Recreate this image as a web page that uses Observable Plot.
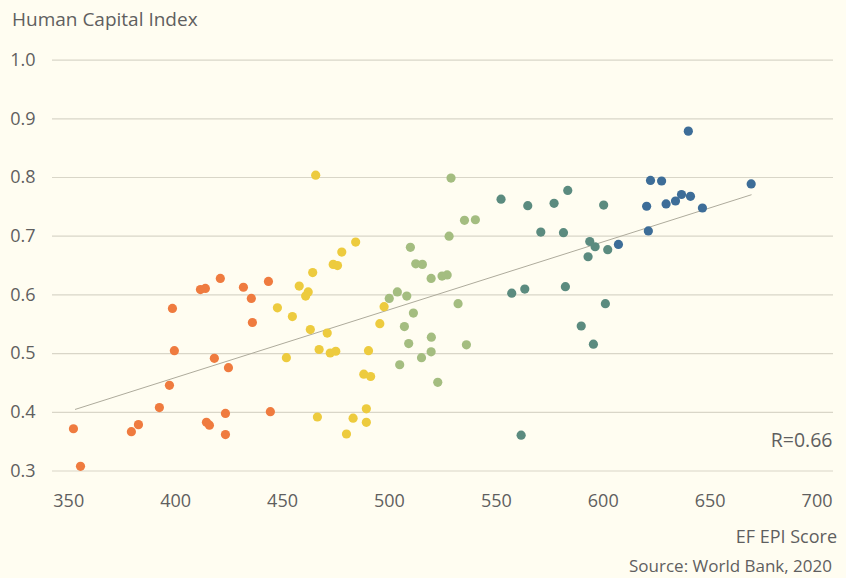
<!DOCTYPE html>
<html>
<head>
<meta charset="utf-8">
<script src="https://cdn.jsdelivr.net/npm/d3@7"></script>
<script src="https://cdn.jsdelivr.net/npm/@observablehq/plot@0.6"></script>
<style>
  html, body { margin: 0; padding: 0; background: #fffdf1; }
  #wrap { position: relative; width: 846px; height: 578px; font-family: "Open Sans", Roboto, sans-serif; color: #5f5f5f; }
  #wrap svg { position: absolute; left: 0; top: 0; }
  .t { position: absolute; white-space: nowrap; }
  #title { left: 12px; top: 10px; font-size: 19px; line-height: 19px; }
  #xlabel { right: 9px; top: 527px; font-size: 18px; line-height: 18px; }
  #source { right: 14px; top: 557px; font-size: 17px; line-height: 17px; }
</style>
</head>
<body>
<div id="wrap">
  <div class="t" id="title">Human Capital Index</div>
  <div class="t" id="xlabel">EF EPI Score</div>
  <div class="t" id="source">Source: World Bank, 2020</div>
</div>
<script>
// EF EPI score vs Human Capital Index, grouped by proficiency band
const groups = ["Very low", "Low", "Moderate", "High", "Very high"];
const groupColors = ["#ef7b3f", "#edcb3e", "#a4bd80", "#5b8b7f", "#3d6d98"];

const veryLow = [
  [352.2, 0.372], [355.5, 0.308], [379.3, 0.367], [382.6, 0.379], [392.4, 0.408],
  [397.1, 0.446], [398.5, 0.577], [399.4, 0.505], [411.6, 0.609], [413.9, 0.611],
  [414.4, 0.383], [415.8, 0.378], [418.1, 0.492], [420.9, 0.628], [423.3, 0.398],
  [423.3, 0.362], [424.7, 0.476], [431.7, 0.613], [435.4, 0.594], [435.9, 0.553],
  [443.4, 0.623], [444.3, 0.401]
];
const low = [
  [465.5, 0.804], [484.2, 0.690], [477.7, 0.673], [473.7, 0.652], [475.7, 0.650],
  [464.1, 0.638], [457.8, 0.615], [462.0, 0.605], [460.8, 0.598], [447.6, 0.578],
  [454.6, 0.563], [463.0, 0.541], [470.9, 0.535], [497.5, 0.580], [495.5, 0.551],
  [467.1, 0.507], [472.3, 0.501], [474.9, 0.504], [490.2, 0.505], [451.8, 0.493],
  [488.0, 0.465], [491.2, 0.461], [489.2, 0.406], [466.3, 0.392], [483.0, 0.390],
  [489.2, 0.383], [479.9, 0.363]
];
const moderate = [
  [509.8, 0.681], [512.3, 0.653], [515.4, 0.652], [519.5, 0.628], [524.6, 0.632],
  [527.0, 0.634], [503.7, 0.605], [499.9, 0.594], [508.1, 0.598], [511.2, 0.569],
  [507.0, 0.546], [519.6, 0.528], [509.0, 0.517], [519.5, 0.503], [515.0, 0.493],
  [504.8, 0.481], [522.6, 0.451], [528.8, 0.799], [535.1, 0.727], [540.2, 0.728],
  [527.9, 0.700], [532.1, 0.585], [536.0, 0.515]
];
const high = [
  [552.2, 0.763], [564.7, 0.752], [577.0, 0.756], [583.4, 0.778], [600.2, 0.753],
  [570.8, 0.707], [581.4, 0.706], [593.7, 0.691], [596.2, 0.682], [602.1, 0.677],
  [592.9, 0.665], [557.2, 0.603], [563.3, 0.610], [582.3, 0.614], [601.0, 0.585],
  [589.7, 0.547], [595.4, 0.516], [561.6, 0.361]
];
const veryHigh = [
  [639.8, 0.879], [622.1, 0.795], [627.3, 0.794], [636.6, 0.771], [640.8, 0.768],
  [633.8, 0.760], [629.4, 0.755], [620.3, 0.751], [646.4, 0.748], [669.2, 0.789],
  [621.1, 0.709], [607.1, 0.686]
];
// trend line as drawn in the source (start and end)
const trendX = [353.1, 669.2];
const trendY = [0.405, 0.7705];
const xTicks = [350, 400, 450, 500, 550, 600, 650, 700];
const yTicks = [0.3, 0.4, 0.5, 0.6, 0.7, 0.8, 0.9, 1.0];
const rLabel = "R=0.66";

const series = [veryLow, low, moderate, high, veryHigh];
const points = series.flatMap((arr, i) => arr.map(([x, y]) => ({x, y, group: groups[i]})));
const trend = trendX.map((x, i) => ({x, y: trendY[i]}));

const font = "'Open Sans', Roboto, sans-serif";
const chart = Plot.plot({
  width: 846,
  height: 578,
  marginLeft: 52,
  marginRight: 13,
  marginTop: 59.6,
  marginBottom: 107.5,
  style: {background: "transparent", fontFamily: font, color: "#5f5f5f", overflow: "visible"},
  x: {domain: [342.4, 707.7], label: null},
  y: {domain: [0.3, 1.0], label: null},
  color: {domain: groups, range: groupColors},
  marks: [
    Plot.gridY(yTicks, {stroke: "#d9d6c8", strokeOpacity: 1, strokeWidth: 1.2}),
    Plot.axisY(yTicks, {tickSize: 0, tickPadding: 17, fontSize: 18, fill: "#5f5f5f", tickFormat: d3.format(".1f"), label: null}),
    Plot.axisX(xTicks, {tickSize: 0, tickPadding: 23, fontSize: 18, fill: "#5f5f5f", tickFormat: d => String(d), label: null}),
    Plot.line(trend, {x: "x", y: "y", stroke: "#aeab9c", strokeWidth: 1}),
    Plot.dot(points, {x: "x", y: "y", fill: "group", r: 4.6}),
    Plot.text([rLabel], {text: d => d, frameAnchor: "bottom-right", textAnchor: "end", lineAnchor: "middle", dx: -1, dy: -30, fontSize: 19.5, fill: "#5f5f5f"})
  ]
});
document.getElementById("wrap").prepend(chart);
</script>
</body>
</html>
